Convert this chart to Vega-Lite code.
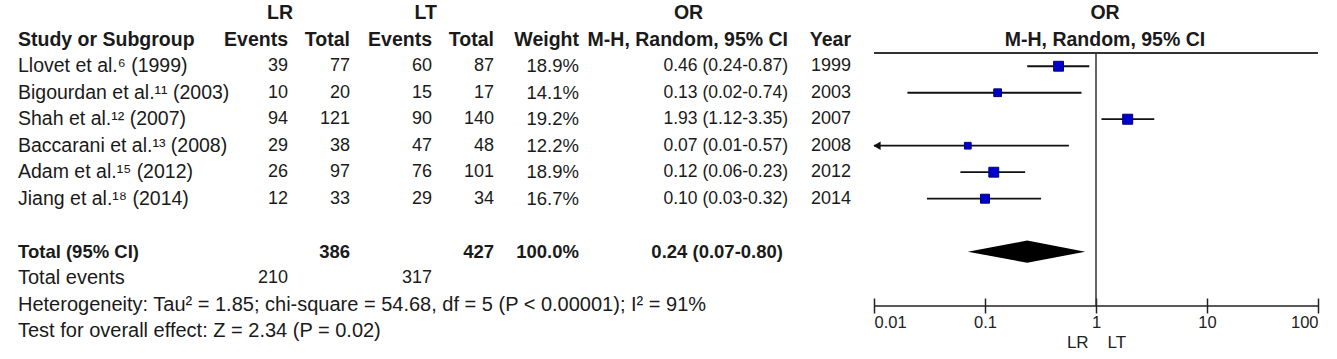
{
"$schema": "https://vega.github.io/schema/vega-lite/v6.json",
"padding": 0,
"autosize": {"type": "pad"},
"bounds": "flush",
"spacing": 0,
"config": {
  "view": {"stroke": null},
  "text": {"font": "Liberation Sans", "fontSize": 18, "color": "#1a1a1a", "baseline": "middle"}
},
"datasets": {
  "tbl": [
    {"r": -2, "e1": "LR", "e2": "LT", "orh": "OR", "fh": "OR"},
    {"r": -1, "study": "Study or Subgroup", "e1": "Events", "n1": "Total", "e2": "Events", "n2": "Total", "w": "Weight", "ci": "M-H, Random, 95% CI", "yr": "Year", "fh": "M-H, Random, 95% CI"},
    {"r": 0, "study": "Llovet et al.⁶ (1999)", "e1": "39", "n1": "77", "e2": "60", "n2": "87", "w": "18.9%", "ci": "0.46 (0.24-0.87)", "yr": "1999"},
    {"r": 1, "study": "Bigourdan et al.¹¹ (2003)", "e1": "10", "n1": "20", "e2": "15", "n2": "17", "w": "14.1%", "ci": "0.13 (0.02-0.74)", "yr": "2003"},
    {"r": 2, "study": "Shah et al.¹² (2007)", "e1": "94", "n1": "121", "e2": "90", "n2": "140", "w": "19.2%", "ci": "1.93 (1.12-3.35)", "yr": "2007"},
    {"r": 3, "study": "Baccarani et al.¹³ (2008)", "e1": "29", "n1": "38", "e2": "47", "n2": "48", "w": "12.2%", "ci": "0.07 (0.01-0.57)", "yr": "2008"},
    {"r": 4, "study": "Adam et al.¹⁵ (2012)", "e1": "26", "n1": "97", "e2": "76", "n2": "101", "w": "18.9%", "ci": "0.12 (0.06-0.23)", "yr": "2012"},
    {"r": 5, "study": "Jiang et al.¹⁸ (2014)", "e1": "12", "n1": "33", "e2": "29", "n2": "34", "w": "16.7%", "ci": "0.10 (0.03-0.32)", "yr": "2014"},
    {"r": 7, "study": "Total (95% CI)", "n1": "386", "n2": "427", "w": "100.0%", "ci": "0.24 (0.07-0.80)"},
    {"r": 8, "study": "Total events", "e1": "210", "e2": "317"},
    {"r": 9, "study": "Heterogeneity: Tau² = 1.85; chi-square = 54.68, df = 5 (P < 0.00001); I² = 91%"},
    {"r": 10, "study": "Test for overall effect: Z = 2.34 (P = 0.02)"}
  ],
  "forest": [
    {"r": 0, "or": 0.46, "lo": 0.24, "hi": 0.87, "w": 18.9},
    {"r": 1, "or": 0.13, "lo": 0.02, "hi": 0.74, "w": 14.1},
    {"r": 2, "or": 1.93, "lo": 1.12, "hi": 3.35, "w": 19.2},
    {"r": 3, "or": 0.07, "lo": 0.01, "hi": 0.57, "w": 12.2},
    {"r": 4, "or": 0.12, "lo": 0.06, "hi": 0.23, "w": 18.9},
    {"r": 5, "or": 0.10, "lo": 0.03, "hi": 0.32, "w": 16.7}
  ],
  "diamond": [
    {"or": 0.07, "top": 7, "bot": 7},
    {"or": 0.24, "top": 6.58, "bot": 7.42},
    {"or": 0.80, "top": 7, "bot": 7}
  ]
},
"data": {"name": "tbl"},
"hconcat": [
  {
    "width": 230, "height": 306,
    "encoding": {"y": {"field": "r", "type": "quantitative", "scale": {"domain": [-2.5, 9.05], "reverse": true, "nice": false, "zero": false}, "axis": null}},
    "layer": [
      {"data": {"values": [{}]}, "mark": {"type": "rule", "strokeWidth": 2, "color": "#333"}, "encoding": {"y": {"datum": -0.5}}},
      {"transform": [{"filter": "datum.study && datum.r < 0"}], "mark": {"type": "text", "align": "left", "dx": 18, "fontWeight": "bold", "fontSize": 19.5}, "encoding": {"x": {"value": 0}, "text": {"field": "study"}}},
      {"transform": [{"filter": "datum.study && datum.r == 7"}], "mark": {"type": "text", "align": "left", "dx": 18, "fontWeight": "bold", "fontSize": 18.5}, "encoding": {"x": {"value": 0}, "text": {"field": "study"}}},
      {"transform": [{"filter": "datum.study && datum.r >= 0 && datum.r < 7"}], "mark": {"type": "text", "align": "left", "dx": 18, "fontSize": 19.5}, "encoding": {"x": {"value": 0}, "text": {"field": "study"}}},
      {"transform": [{"filter": "datum.study && datum.r > 7"}], "mark": {"type": "text", "align": "left", "dx": 18, "fontSize": 20}, "encoding": {"x": {"value": 0}, "text": {"field": "study"}}}
    ]
  },
  {
    "width": 58, "height": 306,
    "encoding": {"y": {"field": "r", "type": "quantitative", "scale": {"domain": [-2.5, 9.05], "reverse": true, "nice": false, "zero": false}, "axis": null}},
    "layer": [
      {"data": {"values": [{}]}, "mark": {"type": "rule", "strokeWidth": 2, "color": "#333"}, "encoding": {"y": {"datum": -0.5}}},
      {"transform": [{"filter": "datum.e1 && datum.r == -2"}], "mark": {"type": "text", "align": "right", "dx": 5, "fontWeight": "bold", "fontSize": 19.5}, "encoding": {"x": {"value": "width"}, "text": {"field": "e1"}}},
      {"transform": [{"filter": "datum.e1 && datum.r == -1"}], "mark": {"type": "text", "align": "right", "fontWeight": "bold", "fontSize": 19.5}, "encoding": {"x": {"value": "width"}, "text": {"field": "e1"}}},
      {"transform": [{"filter": "datum.e1 && datum.r >= 0"}], "mark": {"type": "text", "align": "right"}, "encoding": {"x": {"value": "width"}, "text": {"field": "e1"}}}
    ]
  },
  {
    "width": 62, "height": 306,
    "encoding": {"y": {"field": "r", "type": "quantitative", "scale": {"domain": [-2.5, 9.05], "reverse": true, "nice": false, "zero": false}, "axis": null}},
    "layer": [
      {"data": {"values": [{}]}, "mark": {"type": "rule", "strokeWidth": 2, "color": "#333"}, "encoding": {"y": {"datum": -0.5}}},
      {"transform": [{"filter": "datum.n1 && datum.r < 0"}], "mark": {"type": "text", "align": "right", "fontWeight": "bold", "fontSize": 19.5}, "encoding": {"x": {"value": "width"}, "text": {"field": "n1"}}},
      {"transform": [{"filter": "datum.n1 && datum.r == 7"}], "mark": {"type": "text", "align": "right", "fontWeight": "bold", "fontSize": 18.5}, "encoding": {"x": {"value": "width"}, "text": {"field": "n1"}}},
      {"transform": [{"filter": "datum.n1 && datum.r >= 0 && datum.r != 7"}], "mark": {"type": "text", "align": "right"}, "encoding": {"x": {"value": "width"}, "text": {"field": "n1"}}}
    ]
  },
  {
    "width": 82, "height": 306,
    "encoding": {"y": {"field": "r", "type": "quantitative", "scale": {"domain": [-2.5, 9.05], "reverse": true, "nice": false, "zero": false}, "axis": null}},
    "layer": [
      {"data": {"values": [{}]}, "mark": {"type": "rule", "strokeWidth": 2, "color": "#333"}, "encoding": {"y": {"datum": -0.5}}},
      {"transform": [{"filter": "datum.e2 && datum.r == -2"}], "mark": {"type": "text", "align": "right", "dx": 5, "fontWeight": "bold", "fontSize": 19.5}, "encoding": {"x": {"value": "width"}, "text": {"field": "e2"}}},
      {"transform": [{"filter": "datum.e2 && datum.r == -1"}], "mark": {"type": "text", "align": "right", "fontWeight": "bold", "fontSize": 19.5}, "encoding": {"x": {"value": "width"}, "text": {"field": "e2"}}},
      {"transform": [{"filter": "datum.e2 && datum.r >= 0"}], "mark": {"type": "text", "align": "right"}, "encoding": {"x": {"value": "width"}, "text": {"field": "e2"}}}
    ]
  },
  {
    "width": 62, "height": 306,
    "encoding": {"y": {"field": "r", "type": "quantitative", "scale": {"domain": [-2.5, 9.05], "reverse": true, "nice": false, "zero": false}, "axis": null}},
    "layer": [
      {"data": {"values": [{}]}, "mark": {"type": "rule", "strokeWidth": 2, "color": "#333"}, "encoding": {"y": {"datum": -0.5}}},
      {"transform": [{"filter": "datum.n2 && datum.r < 0"}], "mark": {"type": "text", "align": "right", "fontWeight": "bold", "fontSize": 19.5}, "encoding": {"x": {"value": "width"}, "text": {"field": "n2"}}},
      {"transform": [{"filter": "datum.n2 && datum.r == 7"}], "mark": {"type": "text", "align": "right", "fontWeight": "bold", "fontSize": 18.5}, "encoding": {"x": {"value": "width"}, "text": {"field": "n2"}}},
      {"transform": [{"filter": "datum.n2 && datum.r >= 0 && datum.r != 7"}], "mark": {"type": "text", "align": "right"}, "encoding": {"x": {"value": "width"}, "text": {"field": "n2"}}}
    ]
  },
  {
    "width": 85, "height": 306,
    "encoding": {"y": {"field": "r", "type": "quantitative", "scale": {"domain": [-2.5, 9.05], "reverse": true, "nice": false, "zero": false}, "axis": null}},
    "layer": [
      {"data": {"values": [{}]}, "mark": {"type": "rule", "strokeWidth": 2, "color": "#333"}, "encoding": {"y": {"datum": -0.5}}},
      {"transform": [{"filter": "datum.w && datum.r < 0"}], "mark": {"type": "text", "align": "right", "fontWeight": "bold", "fontSize": 19.5}, "encoding": {"x": {"value": "width"}, "text": {"field": "w"}}},
      {"transform": [{"filter": "datum.w && datum.r == 7"}], "mark": {"type": "text", "align": "right", "fontWeight": "bold", "fontSize": 18.5}, "encoding": {"x": {"value": "width"}, "text": {"field": "w"}}},
      {"transform": [{"filter": "datum.w && datum.r >= 0 && datum.r != 7"}], "mark": {"type": "text", "align": "right", "fontSize": 18.5}, "encoding": {"x": {"value": "width"}, "text": {"field": "w"}}}
    ]
  },
  {
    "width": 209, "height": 306,
    "encoding": {"y": {"field": "r", "type": "quantitative", "scale": {"domain": [-2.5, 9.05], "reverse": true, "nice": false, "zero": false}, "axis": null}},
    "layer": [
      {"data": {"values": [{}]}, "mark": {"type": "rule", "strokeWidth": 2, "color": "#333"}, "encoding": {"y": {"datum": -0.5}}},
      {"transform": [{"filter": "datum.orh"}], "mark": {"type": "text", "align": "center", "dx": 5, "fontWeight": "bold", "fontSize": 19.5}, "encoding": {"text": {"field": "orh"}}},
      {"transform": [{"filter": "datum.ci && datum.r < 0"}], "mark": {"type": "text", "align": "right", "fontWeight": "bold", "fontSize": 19.5}, "encoding": {"x": {"value": "width"}, "text": {"field": "ci"}}},
      {"transform": [{"filter": "datum.ci && datum.r == 7"}], "mark": {"type": "text", "align": "right", "dx": -5, "fontWeight": "bold", "fontSize": 18.5}, "encoding": {"x": {"value": "width"}, "text": {"field": "ci"}}},
      {"transform": [{"filter": "datum.ci && datum.r >= 0 && datum.r != 7"}], "mark": {"type": "text", "align": "right", "fontSize": 17.5}, "encoding": {"x": {"value": "width"}, "text": {"field": "ci"}}}
    ]
  },
  {
    "width": 86, "height": 306,
    "encoding": {"y": {"field": "r", "type": "quantitative", "scale": {"domain": [-2.5, 9.05], "reverse": true, "nice": false, "zero": false}, "axis": null}},
    "layer": [
      {"data": {"values": [{}]}, "mark": {"type": "rule", "strokeWidth": 2, "color": "#333"}, "encoding": {"y": {"datum": -0.5}}},
      {"transform": [{"filter": "datum.yr && datum.r < 0"}], "mark": {"type": "text", "align": "right", "dx": -23, "fontWeight": "bold", "fontSize": 19.5}, "encoding": {"x": {"value": "width"}, "text": {"field": "yr"}}},
      {"transform": [{"filter": "datum.yr && datum.r >= 0"}], "mark": {"type": "text", "align": "right", "dx": -23}, "encoding": {"x": {"value": "width"}, "text": {"field": "yr"}}}
    ]
  },
  {
    "width": 444, "height": 306,
    "layer": [
      {"data": {"name": "forest"}, "mark": {"type": "rule", "strokeWidth": 1.8, "color": "#111"},
       "encoding": {
         "x": {"field": "lo", "type": "quantitative", "scale": {"type": "log", "domain": [0.01, 100], "nice": false},
               "axis": {"values": [0.01, 0.1, 1, 10, 100], "format": "~g", "domain": false, "grid": false, "tickSize": 15, "offset": -8, "tickWidth": 1.5, "tickColor": "#222", "labelFont": "Liberation Sans", "labelFontSize": 16.5, "labelColor": "#222", "labelPadding": 1, "labelFlush": true, "labelOverlap": false, "title": "LR\u00a0\u00a0\u00a0\u00a0LT", "titleFont": "Liberation Sans", "titleFontSize": 17, "titleFontWeight": "normal", "titleColor": "#222", "titlePadding": 4}},
         "x2": {"field": "hi"},
         "y": {"field": "r", "type": "quantitative", "scale": {"domain": [-2.5, 9.05], "reverse": true, "nice": false, "zero": false}, "axis": null}
       }},
      {"data": {"values": [{}]}, "mark": {"type": "rule", "strokeWidth": 2, "color": "#333"}, "encoding": {"y": {"datum": -0.5}}},
      {"data": {"values": [{}]}, "mark": {"type": "rule", "strokeWidth": 1.5, "color": "#333"}, "encoding": {"x": {"datum": 1}, "y": {"datum": -0.5}, "y2": {"datum": 9.05}}},
      {"data": {"values": [{}]}, "mark": {"type": "rule", "strokeWidth": 1.5, "color": "#222"}, "encoding": {"x": {"datum": 0.01}, "x2": {"datum": 100}, "y": {"datum": 9.05}}},
      {"data": {"name": "forest"}, "transform": [{"filter": "datum.lo <= 0.01"}], "mark": {"type": "point", "shape": "triangle-left", "filled": true, "color": "#111", "size": 70, "opacity": 1},
       "encoding": {"x": {"field": "lo", "type": "quantitative"}, "y": {"field": "r", "type": "quantitative"}, "xOffset": {"value": 3}}},
      {"data": {"name": "forest"}, "mark": {"type": "point", "shape": "square", "filled": true, "color": "#0000cc", "stroke": "#00007a", "strokeWidth": 1, "opacity": 1},
       "encoding": {"x": {"field": "or", "type": "quantitative"}, "y": {"field": "r", "type": "quantitative"},
         "size": {"field": "w", "type": "quantitative", "scale": {"domain": [12.2, 19.2], "range": [45, 100]}, "legend": null}}},
      {"data": {"name": "diamond"}, "mark": {"type": "area", "color": "#000", "opacity": 1},
       "encoding": {"x": {"field": "or", "type": "quantitative"}, "y": {"field": "top", "type": "quantitative"}, "y2": {"field": "bot"}}},
      {"transform": [{"filter": "datum.fh"}], "mark": {"type": "text", "align": "center", "dx": 9, "fontWeight": "bold", "fontSize": 19.5},
       "encoding": {"y": {"field": "r", "type": "quantitative"}, "text": {"field": "fh"}}}
    ]
  },
  {
    "width": 19, "height": 306,
    "encoding": {"y": {"field": "r", "type": "quantitative", "scale": {"domain": [-2.5, 9.05], "reverse": true, "nice": false, "zero": false}, "axis": null}},
    "layer": [
      {"data": {"values": [{}]}, "mark": {"type": "rule", "strokeWidth": 2, "color": "#333"}, "encoding": {"y": {"datum": -0.5}}}
    ]
  }
]
}
